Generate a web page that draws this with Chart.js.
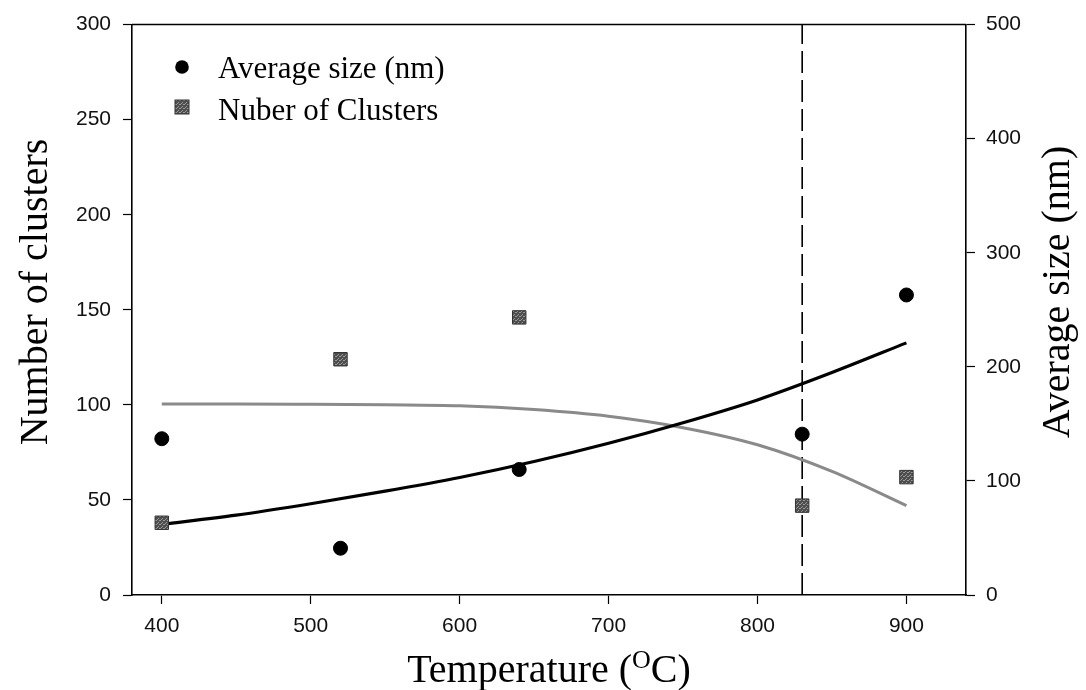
<!DOCTYPE html>
<html>
<head>
<meta charset="utf-8">
<script src="https://cdn.jsdelivr.net/npm/chart.js@4.4.1/dist/chart.umd.min.js"></script>
<style>
  html, body { margin: 0; padding: 0; background: #fff; }
  canvas { display: block; }
</style>
</head>
<body>
<canvas id="clusterChart" width="1086" height="690"></canvas>
<script>
// measured samples
const temps = [400, 520, 640, 830, 900];
const avgSize = [137, 41, 110, 141, 263];          // nm, right axis
const clusterCount = [38, 124, 146, 47, 62];       // left axis

// fitted trend curves
const fitTemps = [400, 450, 500, 550, 600, 650, 700, 750, 800, 850, 900];
const fitSize = [62, 70, 80, 91, 103, 117, 133, 151, 171, 195, 221];
const fitClusters = [100.5, 100.5, 100.3, 100, 99.5, 97.5, 94, 88, 79, 65, 47];

// transition marker
const markTemp = 830;

const xTicks = [400, 500, 600, 700, 800, 900];
const leftTicks = [0, 50, 100, 150, 200, 250, 300];
const rightTicks = [0, 100, 200, 300, 400, 500];

const SERIF = "'Liberation Serif', 'Times New Roman', serif";
const SANS = "'Liberation Sans', Arial, sans-serif";

function pairs(xs, ys) {
    return xs.map((x, i) => ({ x: x, y: ys[i] }));
}

// speckled grey fill for the square markers
function makeSpeckle() {
    const c = document.createElement('canvas');
    c.width = 4; c.height = 4;
    const g = c.getContext('2d');
    g.fillStyle = '#4e4e4e';
    g.fillRect(0, 0, 4, 4);
    g.fillStyle = '#9a9a9a';
    g.fillRect(0, 0, 1, 1);
    g.fillRect(2, 2, 1, 1);
    g.fillRect(3, 0, 1, 1);
    g.fillRect(1, 3, 1, 1);
    return g.createPattern(c, 'repeat');
}
const speckle = makeSpeckle();

const fixedTicks = arr => axis => { axis.ticks = arr.map(v => ({ value: v })); };

// titles, legend and the top frame line
const decorations = {
    id: 'decorations',
    afterDraw(chart) {
        const ctx = chart.ctx;
        const a = chart.chartArea;
        ctx.save();

        ctx.strokeStyle = '#000';
        ctx.lineWidth = 1.5;
        ctx.beginPath();
        ctx.moveTo(a.left, a.top);
        ctx.lineTo(a.right, a.top);
        ctx.stroke();

        ctx.fillStyle = '#000';
        ctx.textBaseline = 'alphabetic';

        // x title with superscript O
        const big = '40px ' + SERIF, small = '26px ' + SERIF;
        ctx.font = big;
        const p1 = 'Temperature (', p3 = 'C)';
        const w1 = ctx.measureText(p1).width, w3 = ctx.measureText(p3).width;
        ctx.font = small;
        const w2 = ctx.measureText('O').width;
        let tx = (a.left + a.right) / 2 - (w1 + w2 + w3) / 2;
        const ty = 682;
        ctx.font = big;
        ctx.textAlign = 'left';
        ctx.fillText(p1, tx, ty);
        ctx.font = small;
        ctx.fillText('O', tx + w1, ty - 14);
        ctx.font = big;
        ctx.fillText(p3, tx + w1 + w2, ty);

        // rotated y titles
        ctx.textAlign = 'center';
        ctx.textBaseline = 'middle';
        ctx.font = big;
        ctx.save();
        ctx.translate(36, 292);
        ctx.rotate(-Math.PI / 2);
        ctx.fillText('Number of clusters', 0, 0);
        ctx.restore();
        ctx.save();
        ctx.translate(1058, 292);
        ctx.rotate(-Math.PI / 2);
        ctx.fillText('Average size (nm)', 0, 0);
        ctx.restore();

        // legend
        ctx.textAlign = 'left';
        ctx.textBaseline = 'alphabetic';
        ctx.font = '31px ' + SERIF;
        ctx.beginPath();
        ctx.arc(182, 67, 6.8, 0, Math.PI * 2);
        ctx.fill();
        ctx.fillText('Average size (nm)', 218, 78);
        ctx.fillStyle = speckle;
        ctx.fillRect(175, 100, 14, 14);
        ctx.strokeStyle = '#333';
        ctx.lineWidth = 1;
        ctx.strokeRect(175, 100, 14, 14);
        ctx.fillStyle = '#000';
        ctx.fillText('Nuber of Clusters', 218, 120);

        ctx.restore();
    }
};

const ctx = document.getElementById('clusterChart').getContext('2d');
const clusterChart = new Chart(ctx, {
    type: 'scatter',
    data: {
        datasets: [
            {
                label: 'Average size (nm)',
                data: pairs(temps, avgSize),
                yAxisID: 'y1',
                pointStyle: 'circle',
                pointRadius: 7,
                backgroundColor: '#000',
                borderColor: '#000',
                order: 0
            },
            {
                label: 'Nuber of Clusters',
                data: pairs(temps, clusterCount),
                yAxisID: 'y',
                pointStyle: 'rect',
                pointRadius: 9.5,
                backgroundColor: speckle,
                borderColor: '#333',
                borderWidth: 1,
                order: 0
            },
            {
                label: 'size fit',
                data: pairs(fitTemps, fitSize),
                yAxisID: 'y1',
                showLine: true,
                cubicInterpolationMode: 'monotone',
                pointRadius: 0,
                borderColor: '#000',
                borderWidth: 3.2,
                order: 1
            },
            {
                label: 'cluster fit',
                data: pairs(fitTemps, fitClusters),
                yAxisID: 'y',
                showLine: true,
                cubicInterpolationMode: 'monotone',
                pointRadius: 0,
                borderColor: '#8a8a8a',
                borderWidth: 3,
                order: 2
            },
            {
                label: 'marker',
                data: [{ x: markTemp, y: 0 }, { x: markTemp, y: 300 }],
                yAxisID: 'y',
                showLine: true,
                pointRadius: 0,
                borderColor: '#000',
                borderWidth: 1.6,
                borderDash: [22, 7],
                order: 3
            }
        ]
    },
    options: {
        responsive: false,
        animation: false,
        devicePixelRatio: 1,
        layout: { padding: { top: 20, left: 0, right: 0, bottom: 0 } },
        plugins: {
            legend: { display: false },
            tooltip: { enabled: false }
        },
        scales: {
            x: {
                type: 'linear',
                min: 380,
                max: 940,
                afterBuildTicks: fixedTicks(xTicks),
                afterFit: s => { s.height = 95; },
                grid: { drawOnChartArea: false, tickLength: 9, color: '#000', tickWidth: 1.2 },
                border: { color: '#000', width: 1.6 },
                ticks: { color: '#111', padding: 10, maxRotation: 0, font: { family: SANS, size: 21 } }
            },
            y: {
                position: 'left',
                min: 0,
                max: 300,
                afterBuildTicks: fixedTicks(leftTicks),
                afterFit: s => { s.width = 132; },
                grid: { drawOnChartArea: false, tickLength: 9, color: '#000', tickWidth: 1.2 },
                border: { color: '#000', width: 1.6 },
                ticks: { color: '#111', padding: 12, font: { family: SANS, size: 21 } }
            },
            y1: {
                position: 'right',
                min: 0,
                max: 500,
                afterBuildTicks: fixedTicks(rightTicks),
                afterFit: s => { s.width = 120; },
                grid: { drawOnChartArea: false, tickLength: 9, color: '#000', tickWidth: 1.2 },
                border: { color: '#000', width: 1.6 },
                ticks: { color: '#111', padding: 11, font: { family: SANS, size: 21 } }
            }
        }
    },
    plugins: [decorations]
});
</script>
</body>
</html>
